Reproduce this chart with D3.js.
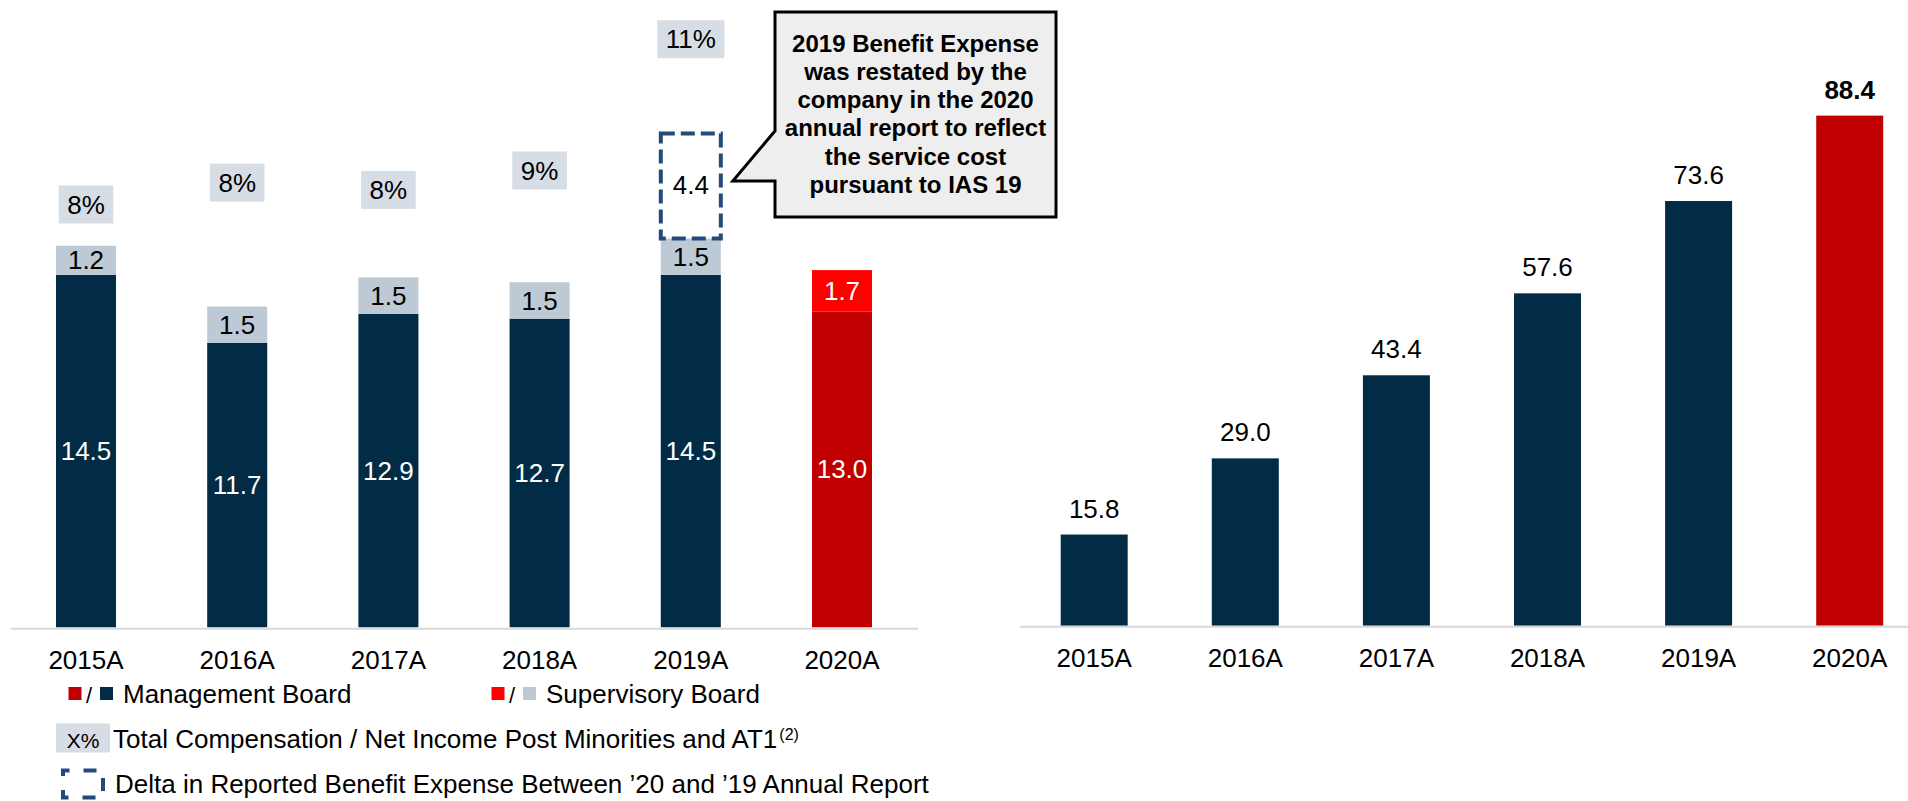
<!DOCTYPE html>
<html>
<head>
<meta charset="utf-8">
<script src="https://cdn.jsdelivr.net/npm/d3@7"></script>
<style>
  html, body { margin: 0; padding: 0; background: #fff; }
  svg { display: block; font-family: "Liberation Sans", Arial, sans-serif; }
</style>
</head>
<body>
<div id="plot"></div>
<script>
// Data
const years = ['2015A', '2016A', '2017A', '2018A', '2019A', '2020A'];
const mgmtBoard = [14.5, 11.7, 12.9, 12.7, 14.5, 13.0];
const supBoard = [1.2, 1.5, 1.5, 1.5, 1.5, 1.7];
const pctLabels = ['8%', '8%', '8%', '9%', '11%', null];
const pctLevel = [17.4, 18.3, 18.0, 18.8, 24.2, null]; // where the % tags sit, in value units
const delta2019 = 4.4;
const cumulative = [15.8, 29.0, 43.4, 57.6, 73.6, 88.4];
const calloutLines = ['2019 Benefit Expense', 'was restated by the', 'company in the 2020',
  'annual report to reflect', 'the service cost', 'pursuant to IAS 19'];

const width = 1908, height = 801;
const navy = '#022c46', red = '#c00000', brightRed = '#ff0000',
  supGray = '#bdc9d4', tagGray = '#d6dde4', dashBlue = '#244a7c';

const svg = d3.select('#plot')
  .append('svg')
  .attr('width', width)
  .attr('height', height);

const rows = years.map((yr, i) => ({
  year: yr, mgmt: mgmtBoard[i], sup: supBoard[i], pct: pctLabels[i], lvl: pctLevel[i],
  last: i === years.length - 1
}));

// ---------- Left chart: stacked compensation ----------
const x = d3.scaleBand()
  .domain(years)
  .range([10.4, 917.6])
  .paddingInner(0.603)
  .paddingOuter(0.3015);

const y = d3.scaleLinear()
  .domain([0, 25])
  .range([627.3, 19.8]);

const left = svg.append('g');

// management board segment
left.selectAll('rect.mgmt')
  .data(rows)
  .join('rect')
  .attr('class', 'mgmt')
  .attr('x', d => x(d.year))
  .attr('y', d => y(d.mgmt))
  .attr('width', x.bandwidth())
  .attr('height', d => y(0) - y(d.mgmt))
  .attr('fill', d => d.last ? red : navy);

// supervisory board segment
left.selectAll('rect.sup')
  .data(rows)
  .join('rect')
  .attr('class', 'sup')
  .attr('x', d => x(d.year))
  .attr('y', d => y(d.mgmt + d.sup))
  .attr('width', x.bandwidth())
  .attr('height', d => y(d.mgmt) - y(d.mgmt + d.sup))
  .attr('fill', d => d.last ? brightRed : supGray);

left.selectAll('text.mgmt')
  .data(rows)
  .join('text')
  .attr('class', 'mgmt')
  .attr('x', d => x(d.year) + x.bandwidth() / 2)
  .attr('y', d => y(d.mgmt / 2))
  .attr('dy', '0.35em')
  .attr('text-anchor', 'middle')
  .style('font-size', '26px')
  .attr('fill', '#fff')
  .text(d => d.mgmt.toFixed(1));

left.selectAll('text.sup')
  .data(rows)
  .join('text')
  .attr('class', 'sup')
  .attr('x', d => x(d.year) + x.bandwidth() / 2)
  .attr('y', d => y(d.mgmt + d.sup / 2))
  .attr('dy', '0.35em')
  .attr('text-anchor', 'middle')
  .style('font-size', '26px')
  .attr('fill', d => d.last ? '#fff' : '#000')
  .text(d => d.sup.toFixed(1));

// percentage tags
const tags = left.selectAll('g.tag')
  .data(rows.filter(d => d.pct))
  .join('g')
  .attr('class', 'tag')
  .attr('transform', d => `translate(${x(d.year) + x.bandwidth() / 2},${y(d.lvl)})`);

tags.append('text')
  .attr('text-anchor', 'middle')
  .attr('dy', '0.35em')
  .style('font-size', '26px')
  .text(d => d.pct);

tags.each(function () {
  const g = d3.select(this);
  const w = g.select('text').node().getComputedTextLength() + 17;
  g.insert('rect', 'text')
    .attr('x', -w / 2)
    .attr('y', -19)
    .attr('width', w)
    .attr('height', 38)
    .attr('fill', tagGray);
});

// 2019 restatement delta (dashed)
const base19 = mgmtBoard[4] + supBoard[4];
left.append('rect')
  .attr('x', x('2019A'))
  .attr('y', y(base19 + delta2019) + 2)
  .attr('width', x.bandwidth())
  .attr('height', y(base19) - y(base19 + delta2019) - 2)
  .attr('fill', 'none')
  .attr('stroke', dashBlue)
  .attr('stroke-width', 4)
  .attr('stroke-dasharray', '14,6');

left.append('text')
  .attr('x', x('2019A') + x.bandwidth() / 2)
  .attr('y', y(base19 + delta2019 / 2))
  .attr('dy', '0.35em')
  .attr('text-anchor', 'middle')
  .style('font-size', '26px')
  .text(delta2019.toFixed(1));

// callout
const bx0 = 775, bx1 = 1056, by0 = 12, by1 = 217;
const tipX = x('2019A') + x.bandwidth() + 12, tipY = y(base19 + delta2019 / 2) - 4;
left.append('path')
  .attr('d', `M${bx0},${by0}H${bx1}V${by1}H${bx0}V181L${tipX},${tipY}L${bx0},131Z`)
  .attr('fill', '#eeeeee')
  .attr('stroke', '#000')
  .attr('stroke-width', 3)
  .attr('stroke-linejoin', 'miter');

left.append('g')
  .selectAll('text')
  .data(calloutLines)
  .join('text')
  .attr('x', (bx0 + bx1) / 2)
  .attr('y', (d, i) => 51.5 + i * 28.3)
  .attr('text-anchor', 'middle')
  .style('font-size', '24px')
  .style('font-weight', 'bold')
  .text(d => d);

// axis
const axL = left.append('g')
  .attr('transform', `translate(0,${y(0)})`)
  .call(d3.axisBottom(x).tickSize(0).tickPadding(0));
axL.select('.domain').attr('stroke', '#d9d9d9').attr('stroke-width', 2).attr('transform', 'translate(0,1)');
axL.selectAll('text')
  .attr('dy', 0)
  .attr('y', 42)
  .attr('fill', '#000')
  .style('font-size', '26px')
  .style('font-family', '"Liberation Sans", Arial, sans-serif');

// legend
const legend = svg.append('g').style('font-size', '26px');
const sq = (gx, c) => legend.append('rect').attr('x', gx).attr('y', 687).attr('width', 13).attr('height', 13).attr('fill', c);
sq(68.5, red); sq(100, navy); sq(491.5, brightRed); sq(523, supGray);
legend.append('text').attr('x', 86).attr('y', 702.5).style('font-size', '22px').text('/');
legend.append('text').attr('x', 509).attr('y', 702.5).style('font-size', '22px').text('/');
legend.append('text').attr('x', 123).attr('y', 702.5).text('Management Board');
legend.append('text').attr('x', 546).attr('y', 702.5).text('Supervisory Board');

legend.append('rect').attr('x', 56).attr('y', 723.5).attr('width', 54).attr('height', 29).attr('fill', tagGray);
legend.append('text').attr('x', 83).attr('y', 748).attr('text-anchor', 'middle').style('font-size', '21px').text('X%');
const t2 = legend.append('text').attr('x', 113).attr('y', 748.3);
t2.append('tspan').text('Total Compensation / Net Income Post Minorities and AT1');
t2.append('tspan').attr('dy', -8).attr('dx', 2).style('font-size', '16px').text('(2)');

legend.append('rect')
  .attr('x', 63).attr('y', 770.5).attr('width', 40).attr('height', 27)
  .attr('fill', 'none').attr('stroke', dashBlue).attr('stroke-width', 4)
  .attr('stroke-dasharray', '13,14').attr('stroke-dashoffset', 6.5);
legend.append('text').attr('x', 115).attr('y', 793.3)
  .text('Delta in Reported Benefit Expense Between \u201920 and \u201919 Annual Report');

// ---------- Right chart: cumulative ----------
const x2 = d3.scaleBand()
  .domain(years)
  .range([1018.65, 1925.25])
  .paddingInner(0.5566)
  .paddingOuter(0.2783);

const y2 = d3.scaleLinear()
  .domain([0, 100])
  .range([625.7, 48.7]);

const right = svg.append('g');

right.selectAll('rect')
  .data(years)
  .join('rect')
  .attr('x', d => x2(d))
  .attr('y', (d, i) => y2(cumulative[i]))
  .attr('width', x2.bandwidth())
  .attr('height', (d, i) => y2(0) - y2(cumulative[i]))
  .attr('fill', (d, i) => i === years.length - 1 ? red : navy);

right.selectAll('text.val')
  .data(years)
  .join('text')
  .attr('class', 'val')
  .attr('x', d => x2(d) + x2.bandwidth() / 2)
  .attr('y', (d, i) => y2(cumulative[i]) - 17)
  .attr('text-anchor', 'middle')
  .style('font-size', '26px')
  .style('font-weight', (d, i) => i === years.length - 1 ? 'bold' : 'normal')
  .text((d, i) => cumulative[i].toFixed(1));

const axR = right.append('g')
  .attr('transform', `translate(0,${y2(0)})`)
  .call(d3.axisBottom(x2).tickSize(0).tickPadding(0));
axR.select('.domain').attr('stroke', '#d9d9d9').attr('stroke-width', 2)
  .attr('d', `M1020,1H${width}`);
axR.selectAll('text')
  .attr('dy', 0)
  .attr('y', 41.6)
  .attr('fill', '#000')
  .style('font-size', '26px')
  .style('font-family', '"Liberation Sans", Arial, sans-serif');
</script>
</body>
</html>
